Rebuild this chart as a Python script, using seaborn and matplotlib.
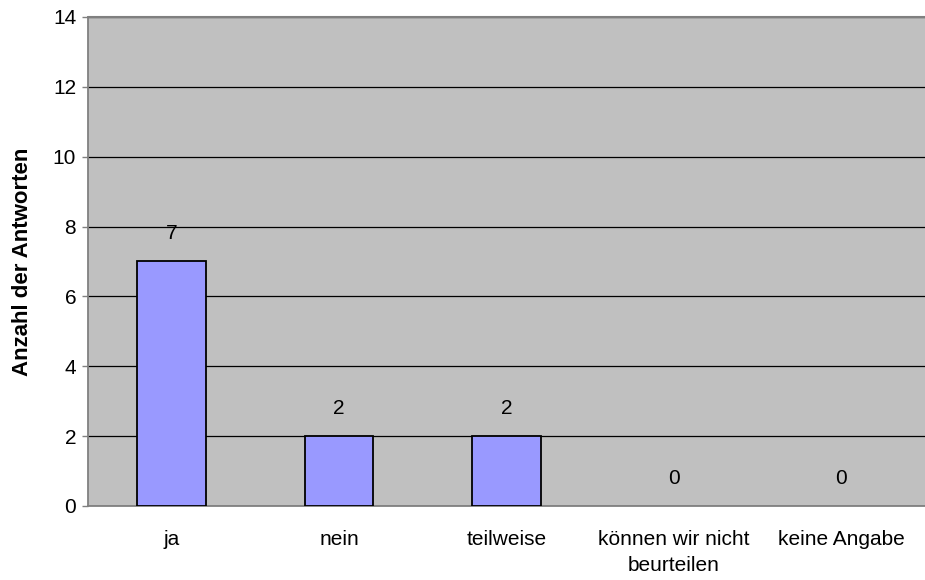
import matplotlib
matplotlib.use("Agg")
import matplotlib.pyplot as plt
import seaborn as sns
import pandas as pd
from matplotlib.ticker import FixedLocator

categories = ["ja", "nein", "teilweise", "können wir nicht\nbeurteilen", "keine Angabe"]
counts = [7, 2, 2, 0, 0]
y_ticks = [0, 2, 4, 6, 8, 10, 12, 14]
y_label = "Anzahl der Antworten"

sns.set_style("white")
plt.rcParams["font.family"] = ["Liberation Sans", "DejaVu Sans"]
plt.rcParams.update({"text.color": "black", "axes.labelcolor": "black",
                     "xtick.labelcolor": "black", "ytick.labelcolor": "black"})

FS = 15

df = pd.DataFrame({"Kategorie": categories, "Anzahl": counts})

fig = plt.figure(figsize=(9.25, 5.8), dpi=100)
ax = fig.add_axes([0.0951, 0.1276, 0.9049, 0.8431])
ax.set_facecolor("#C0C0C0")

sns.barplot(data=df, x="Kategorie", y="Anzahl", color="#9999FF", saturation=1,
            edgecolor="black", linewidth=1.3, width=0.41, ax=ax, zorder=3)

# hide outlines of empty bars
for p in ax.patches:
    if p.get_height() == 0:
        p.set_linewidth(0)

for i, v in enumerate(counts):
    ax.annotate(str(v), (i, v), xytext=(0, 20), textcoords="offset points",
                ha="center", va="center", fontsize=FS, color="black", zorder=4)

ax.set_ylim(0, 14)
ax.set_xlim(-0.5, 4.5)
ax.set_yticks(y_ticks)
ax.yaxis.grid(True, color="black", linewidth=0.9, zorder=1)
ax.set_axisbelow(True)

ax.set_xlabel("")
ax.set_ylabel(y_label, fontsize=16, fontweight="bold", labelpad=14, color="black")

ax.xaxis.set_minor_locator(FixedLocator([-0.5, 0.5, 1.5, 2.5, 3.5]))
ax.tick_params(axis="x", which="major", length=0, pad=17, labelsize=FS, labelcolor="black")
ax.tick_params(axis="x", which="minor", length=4.5, width=1, color="#808080", direction="out")
ax.tick_params(axis="y", which="major", length=4.5, width=1, color="#808080",
               direction="out", pad=4, labelsize=FS, left=True, labelcolor="black")
for lbl in ax.get_xticklabels():
    lbl.set_linespacing(1.5)

for side in ["top", "right"]:
    ax.spines[side].set_visible(False)
for side in ["left", "bottom"]:
    ax.spines[side].set_color("#808080")
    ax.spines[side].set_linewidth(1.3)

ax.axhline(14, color="#808080", linewidth=1.5, zorder=2, clip_on=False)

fig.savefig("out.png", dpi=100)
